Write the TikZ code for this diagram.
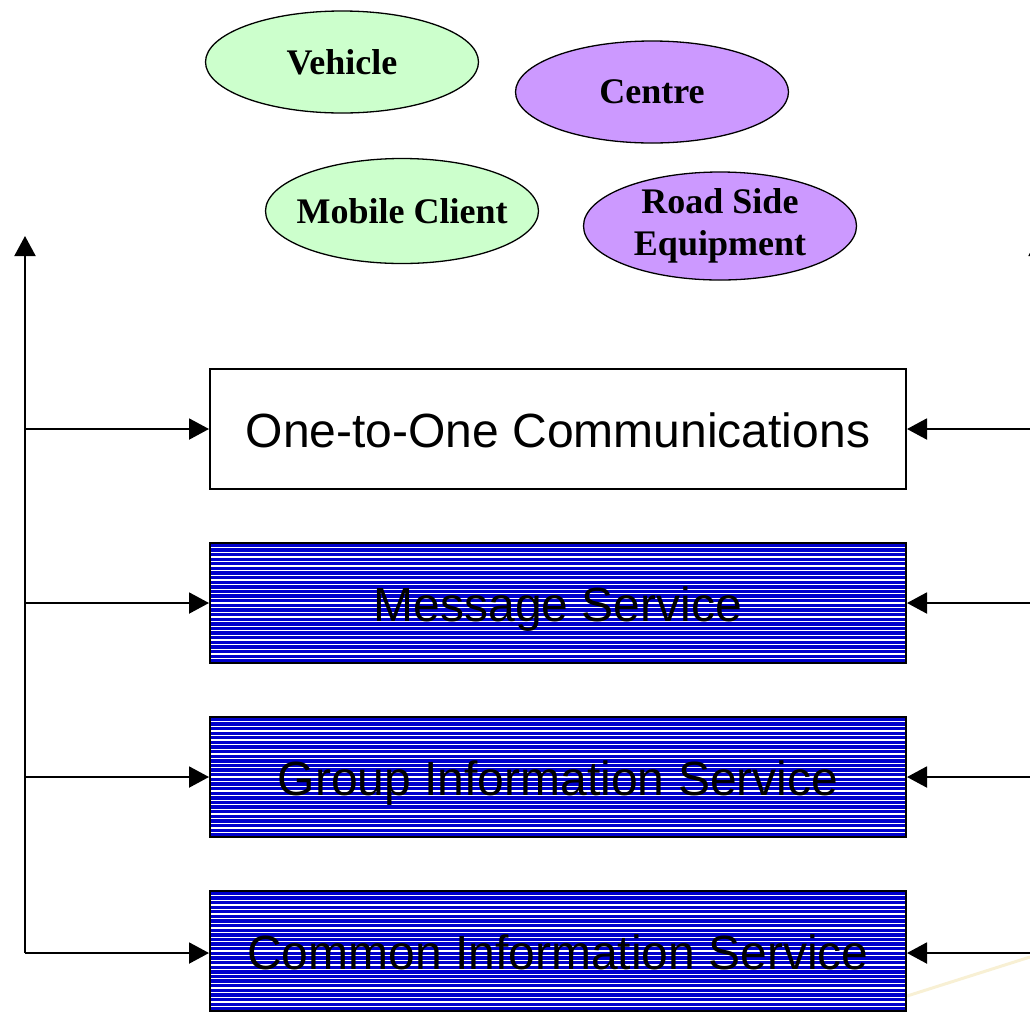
\documentclass[tikz,border=0pt]{standalone}
\usepackage{fontspec}
\setmainfont{Liberation Serif}
\newfontfamily\arialfont{Liberation Sans}
\usetikzlibrary{shapes.geometric,arrows.meta}
\definecolor{vgreen}{HTML}{CCFFCC}
\definecolor{vpurple}{HTML}{CC99FF}
\definecolor{sblue}{HTML}{0000CC}
\definecolor{faintyellow}{HTML}{F3E6B8}
\tikzset{
  actor/.style={ellipse, draw=black, line width=1.3pt, minimum width=273pt, minimum height=102pt, inner sep=-20pt, font=\fontsize{36}{42}\selectfont\bfseries, align=center},
  greenactor/.style={actor, fill=vgreen},
  purpleactor/.style={actor, fill=vpurple},
  servicebox/.style={draw=black, line width=2pt, minimum width=696pt, minimum height=120pt, inner sep=0pt, text height=37pt, text depth=0pt, font=\arialfont\fontsize{48}{55}\selectfont},
  stripedbox/.style={servicebox, fill=sblue},
  stripe/.style={white, line width=1.3pt},
  arr/.style={line width=2pt, -{Triangle[length=20pt,width=21pt]}}
}
\begin{document}
\begin{tikzpicture}[x=1pt,y=-1pt]
\useasboundingbox (0,0) rectangle (1030,1013);
% faint background line
\draw[faintyellow, line width=3pt, opacity=0.6] (1030,957) -- (907,996);
% actors
\node[greenactor] (veh) at (342,62) {Vehicle};
\node[purpleactor] (cen) at (652,92) {Centre};
\node[greenactor, minimum height=105pt] (mob) at (402,211) {Mobile Client};
\node[purpleactor, minimum height=108pt] (rse) at (720,226) {Road Side\\Equipment};
% service boxes
\node[servicebox, fill=white] (b1) at (558,428.5) {One-to-One Communications};
\foreach \n/\y in {b2/603, b3/777, b4/951}{
  \fill[sblue] (210,\y-60) rectangle (906,\y+60);
  \foreach \k in {1,...,25}{
    \draw[stripe] (211,\y-60+\k*4.62) -- (905,\y-60+\k*4.62);
  }
}
\node[servicebox] (b2) at (558,603) {Message Service};
\node[servicebox] (b3) at (558,777) {Group Information Service};
\node[servicebox] (b4) at (558,951) {Common Information Service};
% coordinates
\coordinate (L1) at (25,429);
\coordinate (L2) at (25,603);
\coordinate (L3) at (25,777);
\coordinate (L4) at (25,953);
\coordinate (Ltop) at (25,236);
\coordinate (R1) at (1034,429);
\coordinate (R2) at (1034,603);
\coordinate (R3) at (1034,777);
\coordinate (R4) at (1034,953);
\coordinate (Rbot) at (1039,953);
\coordinate (Rtop) at (1039,236);
% connectors
\draw[arr] (L4) -- (Ltop);
\draw[arr] (L1) -- (b1.west |- L1);
\draw[arr] (L2) -- (b2.west |- L2);
\draw[arr] (L3) -- (b3.west |- L3);
\draw[arr] (L4) -- (b4.west |- L4);
\draw[arr] (R1) -- (b1.east |- R1);
\draw[arr] (R2) -- (b2.east |- R2);
\draw[arr] (R3) -- (b3.east |- R3);
\draw[arr] (R4) -- (b4.east |- R4);
\draw[arr] (Rbot) -- (Rtop);
\end{tikzpicture}
\end{document}
